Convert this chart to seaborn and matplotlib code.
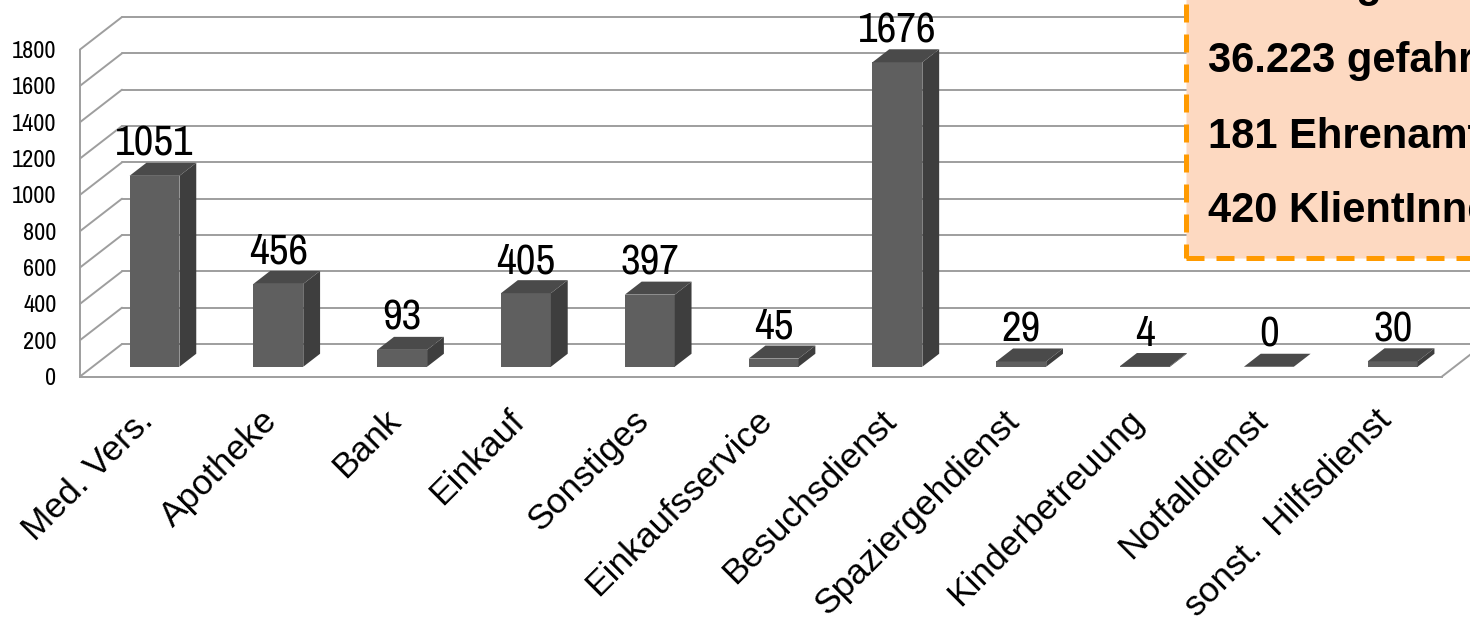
import matplotlib
matplotlib.use("Agg")
import matplotlib.pyplot as plt
import seaborn as sns
import pandas as pd
import numpy as np
from matplotlib.transforms import ScaledTranslation, IdentityTransform
from matplotlib.patches import Polygon, Rectangle
from matplotlib.lines import Line2D

# ---- data -------------------------------------------------------------
categories = ["Med. Vers.", "Apotheke", "Bank", "Einkauf", "Sonstiges",
              "Einkaufsservice", "Besuchsdienst", "Spaziergehdienst",
              "Kinderbetreuung", "Notfalldienst", "sonst.  Hilfsdienst"]
values = [1051, 456, 93, 405, 397, 45, 1676, 29, 4, 0, 30]
y_ticks = [0, 200, 400, 600, 800, 1000, 1200, 1400, 1600, 1800]
summary_lines = ["Leistungen:", "36.223 gefahrene Kilometer",
                 "181 Ehrenamtliche", "420 KlientInnen"]

# ---- layout (pixels) --------------------------------------------------
W, H, DPI = 1470, 622, 100
LEFT, RIGHT, FLOOR, TOP = 80, 1442, 376.5, 49.5
DX, DY = 42, 32.5              # depth of the 3-D frame
BAR_FRONT, BAR_DEPTH = 0.3, 0.4
BAR_W = 0.403

FRONT, SIDE, CAP = "#5f5f5f", "#3e3e3e", "#4a4a4a"
GRID = "#9e9e9e"
PEACH, ORANGE = "#fdd9c1", "#ff9a00"

sns.set_style("white")
plt.rcParams["font.family"] = ["Liberation Sans", "DejaVu Sans"]
NARROW = ["Liberation Sans Narrow", "Archivo Narrow", "Roboto Condensed",
          "Liberation Sans", "DejaVu Sans"]

fig = plt.figure(figsize=(W / DPI, H / DPI), dpi=DPI)
ax = fig.add_axes([LEFT / W, 1 - FLOOR / H, (RIGHT - LEFT) / W, (FLOOR - TOP) / H])

df = pd.DataFrame({"Kategorie": categories, "Anzahl": values})
sns.barplot(data=df, x="Kategorie", y="Anzahl", color=FRONT, saturation=1,
            width=BAR_W, linewidth=0, ax=ax, zorder=3)

n = len(categories)
ax.set_xlim(-0.5, n - 0.5)
ax.set_ylim(y_ticks[0], y_ticks[-1])
ax.set_yticks(y_ticks)
ax.set_xlabel("")
ax.set_ylabel("")


def depth(frac):
    return ScaledTranslation(frac * DX / DPI, frac * DY / DPI, fig.dpi_scale_trans)


# back wall gridlines and left wall diagonals
for v in y_ticks:
    ax.plot([-0.5, n - 0.5], [v, v], transform=ax.transData + depth(1.0),
            color=GRID, lw=1.4, zorder=1, clip_on=False)
    p = ax.transData.transform((-0.5, v))
    ax.add_line(Line2D([p[0], p[0] + DX], [p[1], p[1] + DY],
                       transform=IdentityTransform(), color=GRID, lw=1.4,
                       zorder=1, clip_on=False))
p = ax.transData.transform((n - 0.5, 0))
ax.add_line(Line2D([p[0], p[0] + DX], [p[1], p[1] + DY],
                   transform=IdentityTransform(), color=GRID, lw=1.4,
                   zorder=1, clip_on=False))

# front frame
for side in ["top", "right"]:
    ax.spines[side].set_visible(False)
for side in ["left", "bottom"]:
    ax.spines[side].set_color(GRID)
    ax.spines[side].set_linewidth(1.4)

# 3-D columns: shift front faces into the frame, add side and cap faces
front_tr = ax.transData + depth(BAR_FRONT)
d = np.array([BAR_DEPTH * DX, BAR_DEPTH * DY])
for bar, v in zip(ax.patches, values):
    bar.set_transform(front_tr)
    x0 = bar.get_x()
    x1 = x0 + bar.get_width()
    h = bar.get_height()
    pts = front_tr.transform([(x0, 0), (x1, 0), (x1, h), (x0, h)])
    side_face = [pts[1], pts[1] + d, pts[2] + d, pts[2]]
    cap_face = [pts[3], pts[2], pts[2] + d, pts[3] + d]
    ax.add_patch(Polygon(side_face, closed=True, transform=IdentityTransform(),
                         facecolor=SIDE, edgecolor="none", zorder=3, clip_on=False))
    ax.add_patch(Polygon(cap_face, closed=True, transform=IdentityTransform(),
                         facecolor=CAP, edgecolor="none", zorder=3, clip_on=False))
    ax.text(x0 + bar.get_width() / 2, h, f"{v}",
            transform=front_tr + ScaledTranslation(0, (BAR_DEPTH * DY + 7) / DPI,
                                                   fig.dpi_scale_trans),
            ha="center", va="baseline", fontsize=31, family=NARROW,
            color="black", zorder=5, clip_on=False)

# tick labels
ax.tick_params(axis="y", length=0, pad=17, labelsize=17.5, labelcolor="black")
for lbl in ax.get_yticklabels():
    lbl.set_fontfamily(NARROW)
ax.set_xticks(range(n))
ax.set_xticklabels(categories, rotation=45, ha="right", va="center",
                   rotation_mode="anchor", fontsize=25.5, color="black")
ax.tick_params(axis="x", length=0, pad=28)
for lbl in ax.get_xticklabels():
    lbl.set_transform(lbl.get_transform() + ScaledTranslation(6 / DPI, 0, fig.dpi_scale_trans))

# summary box in the upper right corner
BOX_X, BOX_B = 1186, 258
fig.add_artist(Rectangle((BOX_X / W, 1 - BOX_B / H), (W + 40 - BOX_X) / W, (BOX_B + 40) / H,
                         transform=fig.transFigure, facecolor=PEACH, edgecolor=ORANGE,
                         lw=3.6, linestyle=(0, (3.6, 2.4)), zorder=10, clip_on=False))
baselines = [-3, 72, 148, 222]
for txt, yb in zip(summary_lines, baselines):
    fig.text(1208 / W, 1 - yb / H, txt, ha="left", va="baseline", fontsize=30,
             fontweight="bold", color="black", zorder=11)

fig.savefig("out.png", dpi=DPI)
